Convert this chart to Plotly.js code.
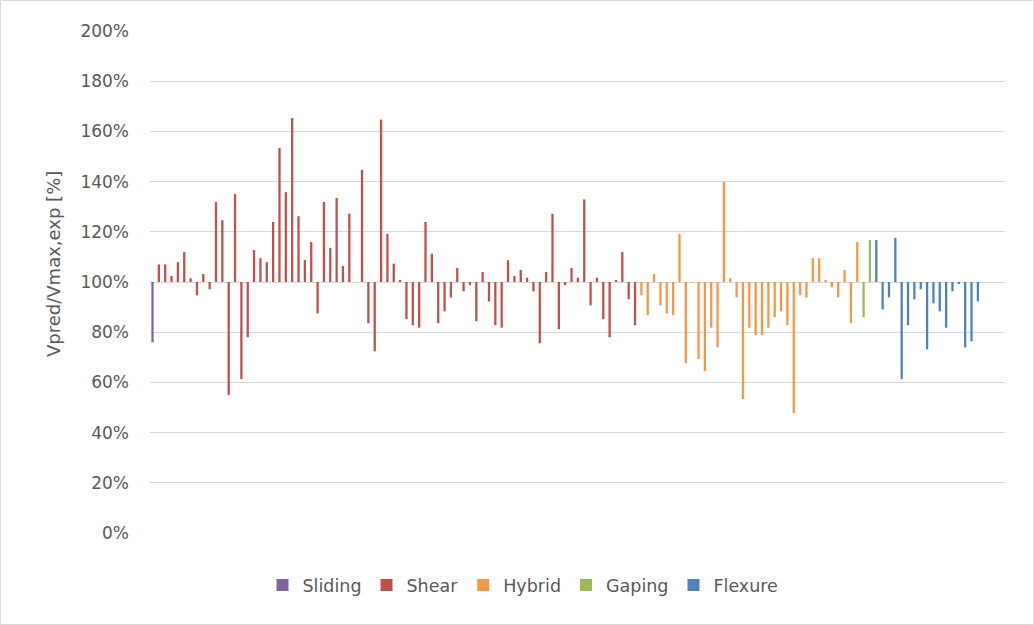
<!DOCTYPE html>
<html>
<head>
<meta charset="utf-8">
<script src="https://cdn.plot.ly/plotly-3.0.1.min.js"></script>
<style>
  html, body { margin: 0; padding: 0; background: #ffffff; }
  #chart { width: 1034px; height: 625px; }
</style>
</head>
<body>
<div id="chart"></div>
<script>
// Series names and colours
const seriesNames = ["Sliding", "Shear", "Hybrid", "Gaping", "Flexure"];
const seriesColors = ["#8064A2", "#C0504D", "#F79646", "#9BBB59", "#4F81BD"];

// Vpred / Vmax,exp ratios per specimen, grouped by failure mode (in order along the x axis)
const sliding = [0.76];
const shear = [
  1.07, 1.07, 1.024, 1.079, 1.119, 1.015, 0.947, 1.032, 0.971, 1.318,
  1.246, 0.55, 1.35, 0.613, 0.78, 1.127, 1.095, 1.079, 1.239, 1.534,
  1.358, 1.653, 1.262, 1.087, 1.159, 0.875, 1.319, 1.136, 1.335, 1.064,
  1.272, 1.00, 1.447, 0.836, 0.724, 1.647, 1.192, 1.073, 1.008, 0.852,
  0.828, 0.818, 1.239, 1.113, 0.836, 0.883, 0.938, 1.056, 0.963, 0.987,
  0.844, 1.04, 0.923, 0.828, 0.818, 1.087, 1.024, 1.048, 1.017, 0.963,
  0.756, 1.04, 1.272, 0.812, 0.987, 1.056, 1.017, 1.329, 0.907, 1.017,
  0.852, 0.78, 1.008, 1.119, 0.931, 0.828
];
const hybrid = [
  0.947, 0.868, 1.032, 0.907, 0.875, 0.868, 1.192, 0.677, 0.996, 0.693,
  0.645, 0.818, 0.74, 1.399, 1.015, 0.939, 0.534, 0.818, 0.788, 0.788,
  0.818, 0.86, 0.883, 0.828, 0.478, 0.947, 0.939, 1.095, 1.095, 1.008,
  0.979, 0.939, 1.048, 0.836, 1.159
];
const gaping = [0.86, 1.167];
const flexure = [
  1.167, 0.891, 0.939, 1.176, 0.613, 0.828, 0.931, 0.971, 0.732, 0.915,
  0.883, 0.818, 0.963, 0.995, 0.74, 0.764, 0.923
];

// Y axis tick values (fractions) shown as percentages
const yTicks = [0, 0.2, 0.4, 0.6, 0.8, 1.0, 1.2, 1.4, 1.6, 1.8, 2.0];
const baseline = 1.0; // bars grow from 100%

const allSeries = [sliding, shear, hybrid, gaping, flexure];
let offset = 0;
const traces = allSeries.map((vals, s) => {
  const xs = vals.map((_, i) => offset + i);
  offset += vals.length;
  return {
    type: "bar",
    name: seriesNames[s],
    x: xs,
    y: vals.map(v => v - baseline),
    base: vals.map(() => baseline),
    width: 0.36,
    marker: { color: seriesColors[s], line: { width: 0 } },
    hovertemplate: seriesNames[s] + ": %{customdata:.0%}<extra></extra>",
    customdata: vals
  };
});

const plotL = 150, plotR = 1005, plotT = 31, plotB = 533, W = 1034, H = 625;
const pw = plotR - plotL, ph = plotB - plotT;
const spacing = 6.349;
const x0 = -(152.5 - plotL) / spacing;
const x1 = x0 + pw / spacing;

const layout = {
  width: W, height: H,
  margin: { l: plotL, r: W - plotR, t: plotT, b: H - plotB, pad: 0 },
  paper_bgcolor: "#ffffff",
  plot_bgcolor: "#ffffff",
  barmode: "overlay",
  showlegend: true,
  font: { family: "DejaVu Sans, Liberation Sans, sans-serif", color: "#595959", size: 15 },
  xaxis: {
    range: [x0, x1],
    showgrid: false, zeroline: false, showline: false,
    showticklabels: false, ticks: "", fixedrange: true
  },
  yaxis: {
    range: [0, 2.0],
    tickvals: yTicks,
    tickformat: ".0%",
    showgrid: true, gridcolor: "#d9d9d9", gridwidth: 1,
    zeroline: false, showline: false, ticks: "",
    ticklabelstandoff: 20,
    tickfont: { size: 17, color: "#595959" },
    fixedrange: true
  },
  legend: {
    orientation: "h",
    x: (523 - plotL) / pw, xanchor: "center",
    y: (plotB - 585) / ph, yanchor: "middle",
    font: { size: 17.5, color: "#595959" },
    itemwidth: 30,
    traceorder: "normal"
  },
  annotations: [{
    text: "Vpred/Vmax,exp [%]",
    textangle: -90,
    xref: "paper", yref: "paper",
    x: (53 - plotL) / pw, y: (plotB - 264) / ph,
    xanchor: "center", yanchor: "middle",
    showarrow: false,
    font: { size: 18, color: "#595959" }
  }],
  shapes: [{
    type: "rect", xref: "paper", yref: "paper",
    x0: (0.5 - plotL) / pw, x1: (W - 0.5 - plotL) / pw,
    y0: (plotB - (H - 0.5)) / ph, y1: (plotB - 0.5) / ph,
    line: { color: "#d9d9d9", width: 1 }, fillcolor: "rgba(0,0,0,0)"
  }]
};

Plotly.newPlot("chart", traces, layout, { displayModeBar: false, staticPlot: false });
</script>
</body>
</html>
